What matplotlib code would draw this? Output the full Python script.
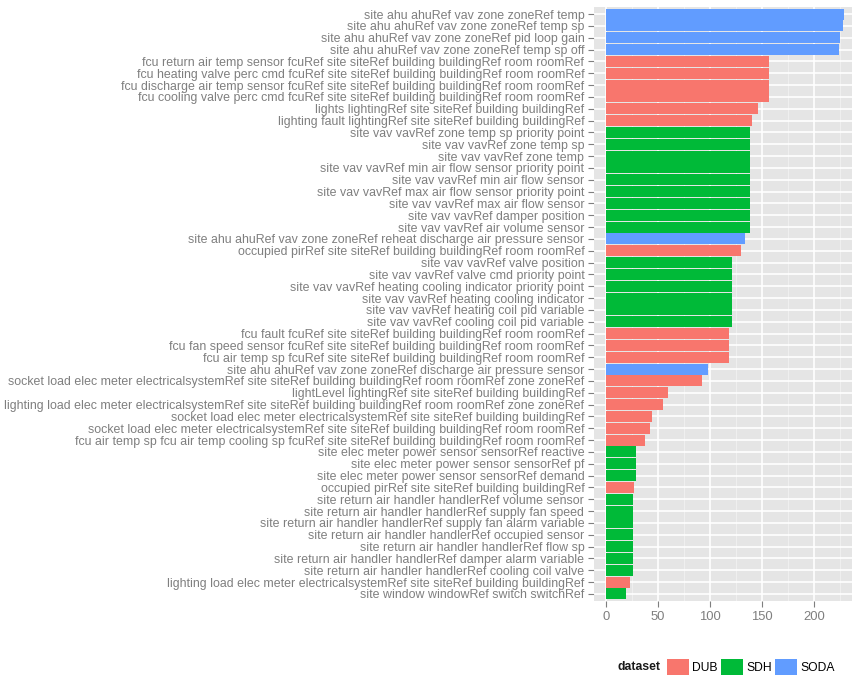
import matplotlib
matplotlib.use("Agg")
import matplotlib.pyplot as plt
from matplotlib.patches import Patch

# Data (top to bottom as shown in chart)
labels = [
    "site ahu ahuRef vav zone zoneRef temp",
    "site ahu ahuRef vav zone zoneRef temp sp",
    "site ahu ahuRef vav zone zoneRef pid loop gain",
    "site ahu ahuRef vav zone zoneRef temp sp off",
    "fcu return air temp sensor fcuRef site siteRef building buildingRef room roomRef",
    "fcu heating valve perc cmd fcuRef site siteRef building buildingRef room roomRef",
    "fcu discharge air temp sensor fcuRef site siteRef building buildingRef room roomRef",
    "fcu cooling valve perc cmd fcuRef site siteRef building buildingRef room roomRef",
    "lights lightingRef site siteRef building buildingRef",
    "lighting fault lightingRef site siteRef building buildingRef",
    "site vav vavRef zone temp sp priority point",
    "site vav vavRef zone temp sp",
    "site vav vavRef zone temp",
    "site vav vavRef min air flow sensor priority point",
    "site vav vavRef min air flow sensor",
    "site vav vavRef max air flow sensor priority point",
    "site vav vavRef max air flow sensor",
    "site vav vavRef damper position",
    "site vav vavRef air volume sensor",
    "site ahu ahuRef vav zone zoneRef reheat discharge air pressure sensor",
    "occupied pirRef site siteRef building buildingRef room roomRef",
    "site vav vavRef valve position",
    "site vav vavRef valve cmd priority point",
    "site vav vavRef heating cooling indicator priority point",
    "site vav vavRef heating cooling indicator",
    "site vav vavRef heating coil pid variable",
    "site vav vavRef cooling coil pid variable",
    "fcu fault fcuRef site siteRef building buildingRef room roomRef",
    "fcu fan speed sensor fcuRef site siteRef building buildingRef room roomRef",
    "fcu air temp sp fcuRef site siteRef building buildingRef room roomRef",
    "site ahu ahuRef vav zone zoneRef discharge air pressure sensor",
    "socket load elec meter electricalsystemRef site siteRef building buildingRef room roomRef zone zoneRef",
    "lightLevel lightingRef site siteRef building buildingRef",
    "lighting load elec meter electricalsystemRef site siteRef building buildingRef room roomRef zone zoneRef",
    "socket load elec meter electricalsystemRef site siteRef building buildingRef",
    "socket load elec meter electricalsystemRef site siteRef building buildingRef room roomRef",
    "fcu air temp sp fcu air temp cooling sp fcuRef site siteRef building buildingRef room roomRef",
    "site elec meter power sensor sensorRef reactive",
    "site elec meter power sensor sensorRef pf",
    "site elec meter power sensor sensorRef demand",
    "occupied pirRef site siteRef building buildingRef",
    "site return air handler handlerRef volume sensor",
    "site return air handler handlerRef supply fan speed",
    "site return air handler handlerRef supply fan alarm variable",
    "site return air handler handlerRef occupied sensor",
    "site return air handler handlerRef flow sp",
    "site return air handler handlerRef damper alarm variable",
    "site return air handler handlerRef cooling coil valve",
    "lighting load elec meter electricalsystemRef site siteRef building buildingRef",
    "site window windowRef switch switchRef",
]
counts = [229, 228, 225, 224, 157, 157, 157, 157, 146, 140,
          138, 138, 138, 138, 138, 138, 138, 138, 138, 134,
          130, 121, 121, 121, 121, 121, 121, 118, 118, 118,
          98, 92, 60, 55, 44, 42, 38, 29, 29, 29,
          27, 26, 26, 26, 26, 26, 26, 26, 23, 19]
datasets = ["SODA"] * 4 + ["DUB"] * 6 + ["SDH"] * 9 + ["SODA", "DUB"] + ["SDH"] * 6 \
    + ["DUB"] * 3 + ["SODA"] + ["DUB"] * 6 + ["SDH"] * 3 + ["DUB"] + ["SDH"] * 7 + ["DUB", "SDH"]

colors = {"DUB": "#F8766D", "SDH": "#00BA38", "SODA": "#619CFF"}

plt.rcParams["font.family"] = ["Liberation Sans", "DejaVu Sans"]

W, H = 852, 677
fig = plt.figure(figsize=(W / 100, H / 100), dpi=100)
ax = fig.add_axes([594 / W, 1 - 601 / H, (W - 594) / W, 594 / H])

n = len(labels)
ypos = [n - i for i in range(n)]
ax.set_facecolor("#E5E5E5")
ax.barh(ypos, counts, height=0.92, color=[colors[d] for d in datasets], zorder=3)

# grid like ggplot
for v in [25, 75, 125, 175, 225]:
    ax.axvline(v, color="#F2F2F2", lw=0.6, zorder=1)
for v in [0, 50, 100, 150, 200]:
    ax.axvline(v, color="white", lw=1.2, zorder=2)
for y in ypos:
    ax.axhline(y, color="white", lw=1.2, zorder=2)

ax.set_xlim(-11.45, 236.5)
ax.set_ylim(0.4, n + 0.6)
ax.set_xticks([0, 50, 100, 150, 200])
ax.set_yticks(ypos)
ax.set_yticklabels(labels)
ax.tick_params(axis="y", labelsize=8.9, colors="#7F7F7F", length=4, width=0.8, pad=3)
ax.tick_params(axis="x", labelsize=9.4, colors="#7F7F7F", length=4, width=0.8, pad=3)
for s in ax.spines.values():
    s.set_visible(False)

# legend at bottom
fig.text(618 / W, 1 - 667 / H, "dataset", fontsize=8.8, fontweight="bold",
         color="#1A1A1A", va="center", ha="left")
handles = [Patch(facecolor=colors[k], edgecolor="none", label=k) for k in ["DUB", "SDH", "SODA"]]
fig.legend(handles=handles, loc="center left", bbox_to_anchor=(667 / W, 1 - 667 / H),
           ncol=3, frameon=False, fontsize=8.7, handlelength=1.85, handleheight=1.75,
           handletextpad=0.25, columnspacing=0.25, borderpad=0, borderaxespad=0)

fig.savefig("out.png", dpi=100)
